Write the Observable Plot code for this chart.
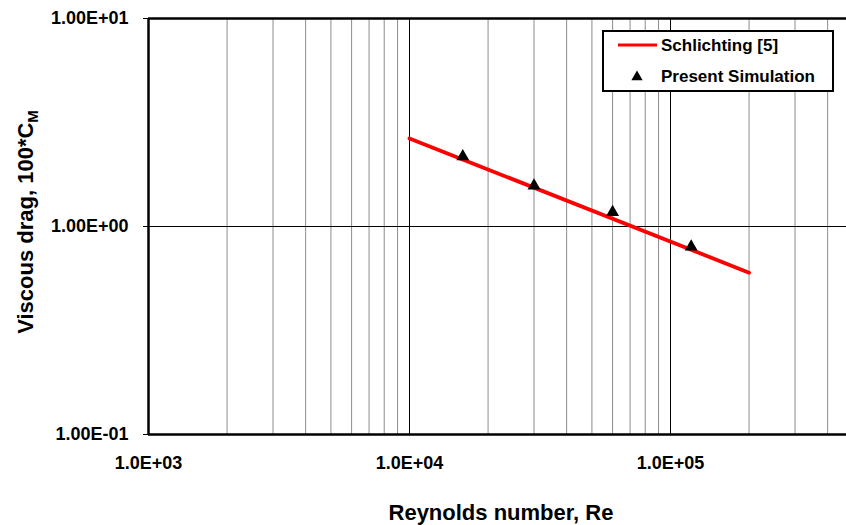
<!DOCTYPE html>
<html><head><meta charset="utf-8">
<script src="https://cdn.jsdelivr.net/npm/d3@7"></script>
<script src="https://cdn.jsdelivr.net/npm/@observablehq/plot@0.6"></script>
<style>
body{margin:0;background:#fff;}
svg{font-family:"Liberation Sans",Arial,sans-serif;}
</style>
</head><body>
<div id="chart"></div>
<script>
// Data
const schlichtingRe = [1e4, 2e5];
const schlichtingCm = [2.65, 0.60];
const simRe = [1.6e4, 3.0e4, 6.0e4, 1.2e5];
const simCm = [2.17, 1.57, 1.17, 0.80];
const xMajorTicks = [1e3, 1e4, 1e5];
const yMajorTicks = [0.1, 1, 10];

const line = schlichtingRe.map((r, i) => ({Re: r, Cm: schlichtingCm[i]}));
const sim = simRe.map((r, i) => ({Re: r, Cm: simCm[i]}));

const xMinor = [];
for (const d of [1e3, 1e4, 1e5]) for (let k = 2; k <= 9; k++) xMinor.push(d * k);

function fmt(d, dec) {
  const e = Math.round(Math.log10(d));
  const m = d / Math.pow(10, e);
  const sign = e < 0 ? "-" : "+";
  return m.toFixed(dec) + "E" + sign + String(Math.abs(e)).padStart(2, "0");
}

const W = 846, H = 525;
const chart = Plot.plot({
  width: W, height: H,
  marginLeft: 148, marginTop: 18, marginBottom: 91, marginRight: -85,
  style: {fontFamily: '"Liberation Sans", Arial, sans-serif', fontSize: "18px", background: "#fff", overflow: "hidden"},
  x: {type: "log", domain: [1e3, 1e6]},
  y: {type: "log", domain: [0.1, 10]},
  marks: [
    Plot.ruleX(xMinor, {stroke: "#8c8c8c", strokeWidth: 1}),
    Plot.ruleX(xMajorTicks.slice(1).concat([1e6]), {stroke: "#000", strokeWidth: 1}),
    Plot.ruleY([1], {stroke: "#000", strokeWidth: 1}),
    Plot.axisX(xMajorTicks, {tickSize: 0, tickPadding: 0, dy: 22, fontSize: 18, fontWeight: "bold", tickFormat: d => fmt(d, 1), label: null, fill: "#000"}),
    Plot.axisY(yMajorTicks, {tickSize: 5, tickPadding: 15, fontSize: 18, fontWeight: "bold", tickFormat: d => fmt(d, 2), label: null, stroke: "#000", fill: "#000"}),
    Plot.ruleY([0.1], {stroke: "#000", strokeWidth: 2.5}),
    Plot.ruleY([10], {stroke: "#000", strokeWidth: 2.5}),
    Plot.ruleX([1e3], {stroke: "#000", strokeWidth: 2.5}),
    Plot.line(line, {x: "Re", y: "Cm", stroke: "#ff0000", strokeWidth: 3.8}),
    Plot.dot(sim, {x: "Re", y: "Cm", symbol: "triangle", r: 4.8, fill: "#000", stroke: "none"})
  ]
});
document.getElementById("chart").appendChild(chart);

const svg = d3.select(chart);
svg.selectAll('g[aria-label$="tick label"]').attr("font-size", 18).style("font-size", "18px");

// axis titles
svg.append("text")
  .attr("x", 501).attr("y", 520).attr("text-anchor", "middle")
  .attr("font-size", 22).attr("font-weight", "bold").attr("fill", "#000")
  .text("Reynolds number, Re");
const yt = svg.append("text")
  .attr("transform", "translate(33,222) rotate(-90)")
  .attr("text-anchor", "middle")
  .attr("font-size", 22).attr("font-weight", "bold").attr("fill", "#000");
yt.append("tspan").text("Viscous drag, 100*C");
yt.append("tspan").attr("font-size", 15).attr("dy", 5).text("M");

// legend
const lg = svg.append("g").attr("text-anchor", "start");
lg.append("rect").attr("x", 603).attr("y", 31).attr("width", 230).attr("height", 60)
  .attr("fill", "#fff").attr("stroke", "#000").attr("stroke-width", 2);
lg.append("line").attr("x1", 618).attr("x2", 657).attr("y1", 45).attr("y2", 45)
  .attr("stroke", "#ff0000").attr("stroke-width", 3);
lg.append("text").attr("x", 661).attr("y", 51).attr("font-size", 17).attr("font-weight", "bold").attr("fill", "#000").text("Schlichting [5]");
lg.append("path").attr("d", d3.symbol(d3.symbolTriangle, 55)()).attr("transform", "translate(637,77)").attr("fill", "#000");
lg.append("text").attr("x", 661).attr("y", 82).attr("font-size", 17).attr("font-weight", "bold").attr("fill", "#000").text("Present Simulation");
</script>
</body></html>
